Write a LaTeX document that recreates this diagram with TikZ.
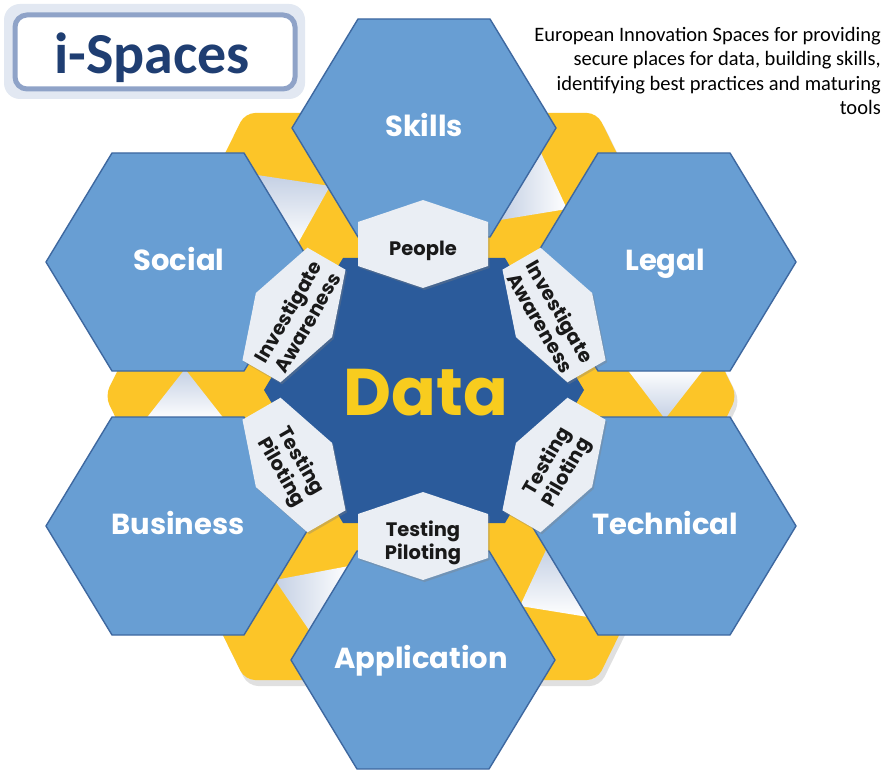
\documentclass[tikz,border=0pt]{standalone}
\usepackage{fontspec}
\newfontfamily\popfont{Poppins}
\newfontfamily\carlfont{Carlito}
\usetikzlibrary{shadows}
\definecolor{hexblue}{RGB}{104,158,211}
\definecolor{hexedge}{RGB}{62,104,160}
\definecolor{datablue}{RGB}{43,91,155}
\definecolor{ringyellow}{RGB}{252,197,40}
\definecolor{datayellow}{RGB}{248,204,30}
\definecolor{foldlight}{RGB}{196,208,228}
\definecolor{smallfill}{RGB}{234,238,244}
\definecolor{titleblue}{RGB}{31,62,114}
\definecolor{boxedge}{RGB}{143,163,200}
\definecolor{boxglow}{RGB}{226,232,242}
\begin{document}
\begin{tikzpicture}[x=1pt,y=-1pt,
  outerhex/.style={fill=hexblue,draw=hexedge,line width=1.4pt,line join=round},
  smallhex/.style={fill=smallfill,drop shadow={shadow xshift=1.5pt,shadow yshift=-2pt,opacity=0.35}},
  fold/.style={left color=foldlight,right color=white},
  bigtext/.style={text=white,font=\popfont\bfseries\fontsize{29}{34}\selectfont,anchor=base,inner sep=0pt},
  smalllabel/.style={text=black!90,align=center,font=\popfont\bfseries\fontsize{19.5}{22.5}\selectfont,inner sep=0pt},
  pics/outerhexagon/.style={code={\path[outerhex] (-132,0) -- (-66,-109) -- (66,-109) -- (132,0) -- (66,109) -- (-66,109) -- cycle;}}
]
\useasboundingbox (0,0) rectangle (889,770);
\fill[white] (0,0) rectangle (889,770);

% title box
\fill[boxglow,rounded corners=16pt] (4,4) rectangle (305,99);
\draw[boxedge,line width=5pt,fill=white,rounded corners=12pt] (15,15) rectangle (295,89);
\node[text=titleblue,font=\carlfont\bfseries\fontsize{58}{60}\selectfont,anchor=base,inner sep=0pt] (title) at (152,74) {i-Spaces};

% description
\node[anchor=north east,align=right,inner sep=0pt,font=\carlfont\fontsize{20.5}{24.5}\selectfont] (desc) at (881,27)
 {European Innovation Spaces for providing\\secure places for data, building skills,\\identifying best practices and maturing\\tools};

% yellow ring with shadow
\fill[black,opacity=0.12,rounded corners=10pt] (108,401) -- (248,118) -- (600,118) -- (740,401) -- (600,686) -- (248,686) -- cycle;
\fill[ringyellow,rounded corners=10pt] (105,396) -- (245,113) -- (597,113) -- (737,396) -- (597,680) -- (245,680) -- cycle;

% folds
\path[fold,shading angle=0] (257,175) -- (297,245) -- (330,186) -- cycle;
\path[fold,shading angle=90] (541,153) -- (500,220) -- (567,209) -- cycle;
\path[fold,shading angle=0] (185,369) -- (145,420) -- (225,420) -- cycle;
\path[fold,shading angle=180] (627,369) -- (704,369) -- (665,419) -- cycle;
\path[fold,shading angle=90] (275,580) -- (349,566) -- (309,630) -- cycle;
\path[fold,shading angle=0] (547,548) -- (588,617) -- (520,606) -- cycle;

% outer hexagons
\pic at (424,128) {outerhexagon};
\pic at (178,262) {outerhexagon};
\pic at (664,262) {outerhexagon};
\pic at (178,526) {outerhexagon};
\pic at (664,526) {outerhexagon};
\pic at (423,660) {outerhexagon};

% data hexagon
\fill[datablue] (264,390) -- (343,258) -- (505,258) -- (584,390) -- (505,523) -- (343,523) -- cycle;

% small hexagons
\begin{scope}[shift={(423,244)}]
 \path[smallhex] (0,-44) -- (65,-22) -- (65,22) -- (0,44) -- (-65,22) -- (-65,-22) -- cycle;
 \node[smalllabel] (people) at (0,7) {People};
\end{scope}
\begin{scope}[shift={(294,315)},rotate=60]
 \path[smallhex] (0,-44) -- (65,-22) -- (65,22) -- (0,44) -- (-65,22) -- (-65,-22) -- cycle;
 \node[smalllabel,rotate=60] (awareL) at (0,4) {Investigate\\Awareness};
\end{scope}
\begin{scope}[shift={(554,315)},rotate=-60]
 \path[smallhex] (0,-44) -- (65,-22) -- (65,22) -- (0,44) -- (-65,22) -- (-65,-22) -- cycle;
 \node[smalllabel,rotate=-60] (awareR) at (0,4) {Investigate\\Awareness};
\end{scope}
\begin{scope}[shift={(294,465)},rotate=-60]
 \path[smallhex] (0,-44) -- (65,-22) -- (65,22) -- (0,44) -- (-65,22) -- (-65,-22) -- cycle;
 \node[smalllabel,rotate=-60] (testL) at (0,4) {Testing\\Piloting};
\end{scope}
\begin{scope}[shift={(554,465)},rotate=60]
 \path[smallhex] (0,-44) -- (65,-22) -- (65,22) -- (0,44) -- (-65,22) -- (-65,-22) -- cycle;
 \node[smalllabel,rotate=60] (testR) at (0,4) {Testing\\Piloting};
\end{scope}
\begin{scope}[shift={(423,536)}]
 \path[smallhex] (0,-44) -- (65,-22) -- (65,22) -- (0,44) -- (-65,22) -- (-65,-22) -- cycle;
 \node[smalllabel] (testB) at (0,7) {Testing\\Piloting};
\end{scope}

% labels
\node[text=datayellow,font=\popfont\bfseries\fontsize{66}{70}\selectfont,anchor=base,inner sep=0pt] (data) at (426,415) {Data};
\node[bigtext] (skills) at (424,137) {Skills};
\node[bigtext] (social) at (179,270) {Social};
\node[bigtext] (legal) at (665,270) {Legal};
\node[bigtext] (business) at (178,534) {Business};
\node[bigtext] (technical) at (665,534) {Technical};
\node[bigtext] (application) at (421,668) {Application};
\end{tikzpicture}
\end{document}
